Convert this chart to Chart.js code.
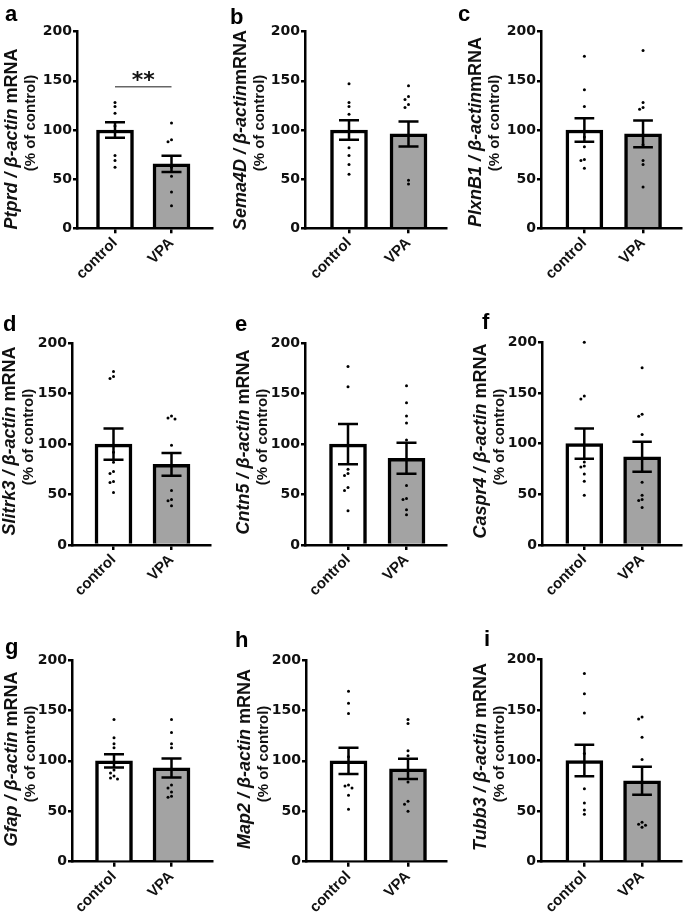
<!DOCTYPE html>
<html>
<head>
<meta charset="utf-8">
<script src="https://cdn.jsdelivr.net/npm/chart.js@4.4.1/dist/chart.umd.min.js"></script>
<style>
  body { margin: 0; background: #fff; }
  #fig { position: relative; width: 685px; height: 917px; overflow: hidden; font-family: "Liberation Sans", Arial, sans-serif; }
  .panel { position: absolute; }
  .letter { position: absolute; font-weight: bold; font-size: 22px; line-height: 22px; color: #000; }
  .ytitle { position: absolute; white-space: nowrap; font-weight: bold; color: #111; line-height: 1; transform: translate(-50%, -50%) rotate(-90deg); }
</style>
</head>
<body>
<div id="fig"></div>
<script>
// ---- data ----
const groups = ['control', 'VPA'];
const yTicks = [0, 50, 100, 150, 200];
const letters = ['a', 'b', 'c', 'd', 'e', 'f', 'g', 'h', 'i'];
const genes = ['Ptprd', 'Sema4D', 'PlxnB1', 'Slitrk3', 'Cntn5', 'Caspr4', 'Gfap', 'Map2', 'Tubb3'];
const meanControl = [100, 100, 100, 100, 100, 100, 100, 100, 100];
const meanVPA     = [65.5, 96, 96, 80, 86, 87, 93, 92, 80];
const semControl  = [8, 10, 12, 15.5, 20, 15, 6.6, 13, 15.5];
const semVPA      = [8.2, 12.7, 13.6, 11.3, 15.4, 14.8, 9.4, 10, 13.9];
const dotsControl = [
  [128, 124, 117, 104, 74, 69, 62],
  [147, 128, 124, 116, 82, 74, 65, 55],
  [175, 141, 124, 93, 83, 70, 69, 61],
  [172, 167, 165, 92, 82, 73, 71, 63, 62, 52],
  [177, 157, 75, 71, 69, 57, 54, 34],
  [200, 147, 144, 82, 78, 77, 70, 63, 49],
  [141, 123, 117, 113, 91, 88, 85, 83, 82],
  [169, 157, 147, 104, 76, 75, 73, 66, 52],
  [186, 166, 147, 107, 72, 58, 51, 47]
];
const dotsVPA = [
  [107, 90, 88, 62, 53, 37, 23],
  [145, 134, 131, 126, 123, 49, 45],
  [181, 128, 123, 121, 85, 69, 65, 42],
  [128, 126, 125, 99, 54, 45, 44, 39],
  [158, 141, 128, 121, 104, 59, 46, 45, 35, 30],
  [175, 129, 127, 109, 62, 49, 45, 44, 37],
  [141, 128, 117, 113, 76, 73, 69, 65, 64],
  [141, 137, 110, 105, 79, 60, 57, 50],
  [143, 141, 123, 101, 39, 37, 36, 34]
];
const sigPanel = 0, sigLineY = 144, sigStarY = 150, sigLabel = '**';

// ---- page geometry (px): panel box, axis frame, bar centres, letter, title line centres ----
const layout = [
  { box: [0, 0, 228, 300],     axis: [77, 212, 31.7, 228.3],  centres: [115, 171.5],   letter: [5, 21.5],  t1: [11, 138.5],  t2: [29, 123] },
  { box: [228, 0, 228, 300],   axis: [305, 446, 31.7, 228.3], centres: [349, 408.5],   letter: [230, 25],  t1: [239.5, 130], t2: [257.5, 123] },
  { box: [456, 0, 229, 300],   axis: [541, 683, 31.7, 228.3], centres: [585, 644.5],   letter: [458, 22],  t1: [475, 132],   t2: [493, 123] },
  { box: [0, 300, 228, 310],   axis: [72, 210, 343.3, 545],   centres: [113.5, 171.5], letter: [3, 332],   t1: [8.5, 441],   t2: [26.5, 437] },
  { box: [228, 300, 228, 310], axis: [305, 446, 343.3, 545],  centres: [348, 406.5],   letter: [235, 332], t1: [243, 442],   t2: [261, 437] },
  { box: [456, 300, 229, 310], axis: [542, 685, 342.3, 545],  centres: [585.5, 645],   letter: [482, 330], t1: [480, 441],   t2: [498, 437] },
  { box: [0, 610, 228, 307],   axis: [72, 212, 660, 861.7],   centres: [114, 171.5],   letter: [5, 655],   t1: [11, 759],    t2: [29, 754] },
  { box: [228, 610, 228, 307], axis: [306, 446, 660, 861.7],  centres: [348.5, 408],   letter: [235, 648], t1: [243.5, 759], t2: [261.5, 754] },
  { box: [456, 610, 229, 307], axis: [541, 683, 659.3, 861.7], centres: [585, 643.5],  letter: [484, 647], t1: [480, 757],   t2: [498, 754] }
];
const noSpace = [false, true, true, false, false, false, false, false, false];

const DOT_GAP = 3.2;     // values closer than this get pushed sideways
const DOT_STEP = 3.5;    // px between side-by-side dots
const CAP_HALF = 10;     // px, half width of error bar caps

const fig = document.getElementById('fig');

// column scatter: nudge dots sideways when they would overlap
function spread(values, centre, stepUnits) {
  const placed = [];
  const slots = [0, -1, 1, -2, 2, -3, 3];
  values.slice().sort((a, b) => b - a).forEach(v => {
    for (const s of slots) {
      if (!placed.some(p => p.s === s && Math.abs(p.v - v) < DOT_GAP)) { placed.push({ v, s }); break; }
    }
  });
  return placed.map(p => ({ x: centre + p.s * stepUnits, y: p.v }));
}

function errData(x, mean, sem, hw) {
  const hi = mean + sem, lo = mean - sem;
  return [
    { x: x - hw, y: hi }, { x: x + hw, y: hi }, { x: x, y: null },
    { x: x, y: hi }, { x: x, y: lo }, { x: x, y: null },
    { x: x - hw, y: lo }, { x: x + hw, y: lo }
  ];
}

const starPlugin = {
  id: 'stars',
  afterDatasetsDraw(chart, args, opts) {
    if (!opts.text) return;
    const { ctx, scales: { x, y } } = chart;
    ctx.save();
    ctx.font = 'bold 22px "DejaVu Sans"';
    ctx.fillStyle = '#111';
    ctx.textAlign = 'center';
    ctx.textBaseline = 'middle';
    ctx.fillText(opts.text, x.getPixelForValue(0.5), y.getPixelForValue(opts.y));
    ctx.restore();
  }
};

const tickFont = { family: 'DejaVu Sans', weight: 'bold', size: 14 };
const xFont = { family: 'Liberation Sans', weight: 'bold', size: 15 };

function buildPanel(i) {
  const L = layout[i];
  const [bx, by, bw, bh] = L.box;
  const [axL, axR, axT, axB] = L.axis;
  const [c0, c1] = L.centres;
  const unit = c1 - c0;
  const hw = CAP_HALF / unit;

  const canvas = document.createElement('canvas');
  canvas.className = 'panel';
  canvas.width = bw; canvas.height = bh;
  canvas.style.left = bx + 'px'; canvas.style.top = by + 'px';
  canvas.style.width = bw + 'px'; canvas.style.height = bh + 'px';
  fig.appendChild(canvas);

  const dots = spread(dotsControl[i], 0, DOT_STEP / unit).concat(spread(dotsVPA[i], 1, DOT_STEP / unit));

  const datasets = [
    { type: 'scatter', data: dots, pointRadius: 1.5, pointBackgroundColor: '#000', pointBorderWidth: 0, order: 0, clip: false },
    { type: 'line', data: errData(0, meanControl[i], semControl[i], hw), borderColor: '#000', borderWidth: 2.5, pointRadius: 0, order: 1, clip: false },
    { type: 'line', data: errData(1, meanVPA[i], semVPA[i], hw), borderColor: '#000', borderWidth: 2.5, pointRadius: 0, order: 1, clip: false },
    { type: 'bar', data: [{ x: 0, y: meanControl[i] }, { x: 1, y: meanVPA[i] }],
      backgroundColor: ['#ffffff', '#a3a3a3'], borderColor: '#000', borderWidth: 3.5,
      borderSkipped: 'start', barThickness: 37, order: 3 }
  ];
  if (i === sigPanel) {
    datasets.push({ type: 'line', data: [{ x: 0, y: sigLineY }, { x: 1, y: sigLineY }],
      borderColor: '#666', borderWidth: 1.3, pointRadius: 0, order: 2, clip: false });
  }

  new Chart(canvas, {
    type: 'bar',
    data: { datasets },
    plugins: [starPlugin],
    options: {
      responsive: false,
      animation: false,
      events: [],
      layout: { padding: { left: 0, right: bx + bw - axR, top: axT - by, bottom: 0 } },
      plugins: {
        legend: { display: false },
        tooltip: { enabled: false },
        stars: i === sigPanel ? { text: sigLabel, y: sigStarY } : {}
      },
      scales: {
        x: {
          type: 'linear',
          offset: false,
          min: (axL - c0) / unit,
          max: (axR - c0) / unit,
          afterBuildTicks: s => { s.ticks = groups.map((g, k) => ({ value: k })); },
          afterFit: s => { s.height = by + bh - axB; },
          ticks: { callback: v => groups[v], minRotation: 45, maxRotation: 45, autoSkip: false, font: xFont, color: '#111', padding: 1 },
          grid: { offset: false, drawOnChartArea: false, drawTicks: true, tickLength: 5, color: '#000', lineWidth: 2.5 },
          border: { display: true, color: '#000', width: 2.5 }
        },
        y: {
          min: 0, max: 200,
          afterBuildTicks: s => { s.ticks = yTicks.map(v => ({ value: v })); },
          afterFit: s => { s.width = axL - bx; },
          ticks: { font: tickFont, color: '#111', padding: 1 },
          grid: { drawOnChartArea: false, drawTicks: true, tickLength: 4, color: '#000', lineWidth: 2.5 },
          border: { display: true, color: '#000', width: 2.5 }
        }
      }
    }
  });

  const letter = document.createElement('div');
  letter.className = 'letter';
  letter.textContent = letters[i];
  letter.style.left = L.letter[0] + 'px';
  letter.style.top = (L.letter[1] - 18.6) + 'px';
  fig.appendChild(letter);

  const t1 = document.createElement('div');
  t1.className = 'ytitle';
  t1.style.fontSize = '18px';
  t1.innerHTML = '<i>' + genes[i] + ' / β-actin</i>' + (noSpace[i] ? '' : ' ') + 'mRNA';
  t1.style.left = L.t1[0] + 'px'; t1.style.top = L.t1[1] + 'px';
  fig.appendChild(t1);

  const t2 = document.createElement('div');
  t2.className = 'ytitle';
  t2.style.fontSize = '15px';
  t2.textContent = '(% of control)';
  t2.style.left = L.t2[0] + 'px'; t2.style.top = L.t2[1] + 'px';
  fig.appendChild(t2);
}

for (let i = 0; i < 9; i++) buildPanel(i);
</script>
</body>
</html>
